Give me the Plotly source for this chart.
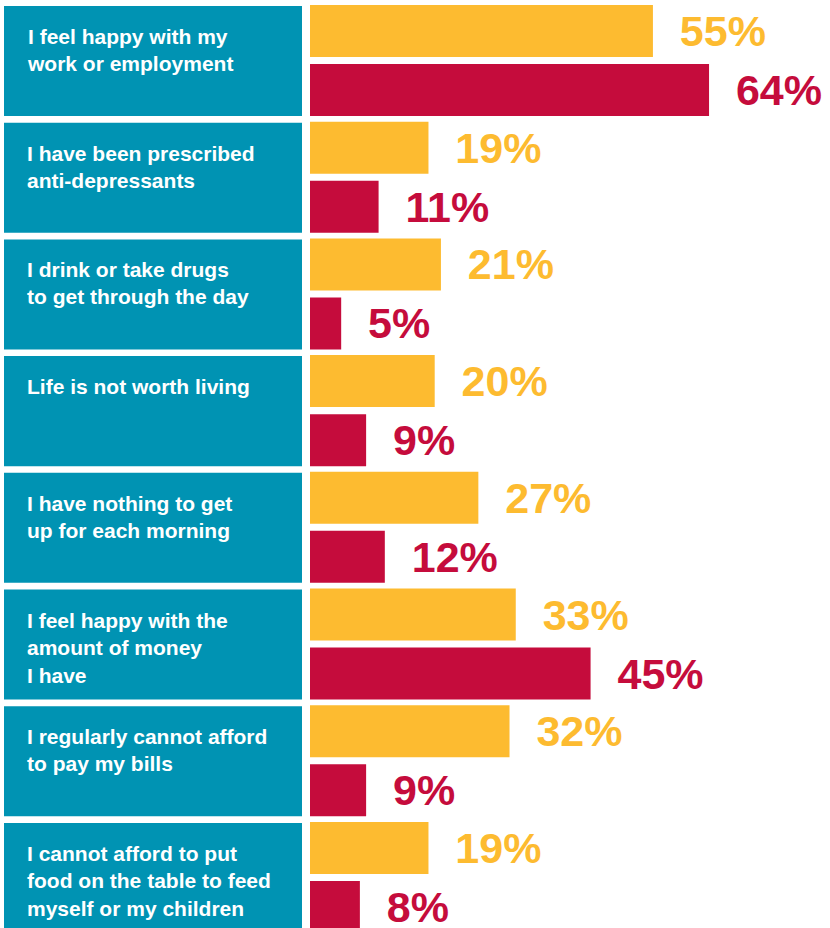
import plotly.graph_objects as go

categories = [
    "I feel happy with my<br>work or employment",
    "I have been prescribed<br>anti-depressants",
    "I drink or take drugs<br>to get through the day",
    "Life is not worth living",
    "I have nothing to get<br>up for each morning",
    "I feel happy with the<br>amount of money<br>I have",
    "I regularly cannot afford<br>to pay my bills",
    "I cannot afford to put<br>food on the table to feed<br>myself or my children",
]
series_a = [55, 19, 21, 20, 27, 33, 32, 19]   # yellow
series_b = [64, 11, 5, 9, 12, 45, 9, 8]       # red

TEAL = "#0093B3"
YELLOW = "#FDBB30"
RED = "#C50C3C"
FONT = "Liberation Sans, Arial, sans-serif"

pos = list(range(len(categories)))

fig = go.Figure()

# teal label boxes
fig.add_trace(go.Bar(
    x=[1] * len(categories), y=pos, orientation="h",
    marker=dict(color=TEAL, line=dict(width=0)),
    width=0.943, xaxis="x2", yaxis="y", hoverinfo="skip", showlegend=False,
))

lbl = "\u00a0\u00a0%{x}%"
BW = 0.4456
fig.add_trace(go.Bar(
    x=series_a, y=pos, orientation="h", name="A",
    marker=dict(color=YELLOW, line=dict(width=0)),
    width=BW, offset=-0.48,
    texttemplate=lbl, textposition="outside", constraintext="none", cliponaxis=False,
    textfont=dict(family=FONT, size=43, color=YELLOW, weight="bold"),
    showlegend=False,
))
fig.add_trace(go.Bar(
    x=series_b, y=pos, orientation="h", name="B",
    marker=dict(color=RED, line=dict(width=0)),
    width=BW, offset=0.026,
    texttemplate=lbl, textposition="outside", constraintext="none", cliponaxis=False,
    textfont=dict(family=FONT, size=43, color=RED, weight="bold"),
    showlegend=False,
))

annotations = []
for i, c in enumerate(categories):
    annotations.append(dict(
        x=25 / 830, xref="paper", xanchor="left",
        y=i, yref="y", yanchor="top", yshift=38,
        text=c, showarrow=False, align="left",
        font=dict(family=FONT, size=21, color="white", weight="bold"),
    ))

fig.update_layout(
    width=830, height=928,
    margin=dict(l=0, r=0, t=0, b=0),
    paper_bgcolor="white", plot_bgcolor="white",
    barmode="overlay",
    showlegend=False,
    xaxis=dict(domain=[310 / 830, 1], range=[0, 83.4], visible=False, fixedrange=True),
    xaxis2=dict(domain=[4 / 830, 302 / 830], range=[0, 1], visible=False, anchor="y"),
    yaxis=dict(type="linear", range=[7.429, -0.523], visible=False, anchor="x"),
    annotations=annotations,
)

fig.write_html("out.html")
